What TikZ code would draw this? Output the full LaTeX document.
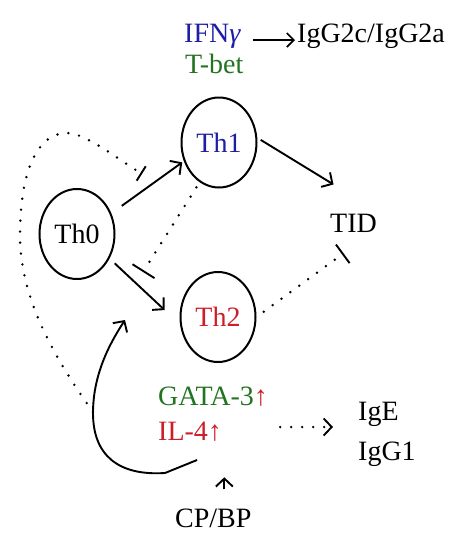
\documentclass[tikz,border=0pt]{standalone}
\usepackage{fontspec}
\setmainfont{Liberation Serif}
\usetikzlibrary{arrows.meta,shapes.geometric}
\definecolor{tblue}{RGB}{30,30,165}
\definecolor{tgreen}{RGB}{35,115,35}
\definecolor{tred}{RGB}{205,30,40}
\tikzset{
  lbl/.style={font=\fontsize{28}{34}\selectfont, inner sep=0pt, anchor=base west},
  cell/.style={ellipse, draw, line width=2pt, minimum width=75pt, minimum height=90pt,
               inner sep=0pt, font=\fontsize{28}{34}\selectfont},
  arr/.style={line width=1.9pt, -{Straight Barb[length=8pt,width=17pt,line width=1.9pt]}},
  dotline/.style={line width=2.7pt, line cap=round, dash pattern=on 0pt off 11pt},
  inh/.style={-{Bar[width=#1,line width=1.9pt]}},
}
\begin{document}
\begin{tikzpicture}[x=1pt,y=-1pt]
\useasboundingbox (0,0) rectangle (474,555);
% cells
\node[cell] (th0) at (77,234) {Th0};
\node[cell, text=tblue] (th1) at (219,142.5) {Th1};
\node[cell, text=tred] (th2) at (218,317) {Th2};
% labels
\node[lbl, text=tblue] (ifn) at (184,42) {IFN\textit{γ}};
\node[lbl, text=tgreen] (tbet) at (185,73) {T-bet};
\node[lbl] (igg) at (297,42) {IgG2c/IgG2a};
\node[lbl] (tid) at (330,232) {TID};
\node[lbl, text=tgreen] (gata) at (158,405) {GATA-3\textcolor{tred}{↑}};
\node[lbl, text=tred] (il4) at (158,440) {IL-4↑};
\node[lbl] (ige) at (358,420) {IgE};
\node[lbl] (igg1) at (358,460) {IgG1};
\node[lbl] (cpbp) at (175,527) {CP/BP};
% free ends
\coordinate (inh1) at (142,174);
\coordinate (inh2) at (143,272);
\coordinate (loop) at (93,412);
\coordinate (fb) at (125,320);
% solid arrows
\draw[line width=1.9pt, -{Straight Barb[length=7pt,width=14pt,line width=1.7pt]}, shorten <=12pt, shorten >=2pt]
  ([yshift=2pt]ifn.base east) -- ([yshift=2pt]igg.base west);
\draw[arr, shorten <=12.8pt, shorten >=2pt] (th0.31) -- (th1.208);
\draw[arr, shorten <=7pt, shorten >=21pt] (th0.-37) -- (th2.191);
\draw[arr, shorten <=4pt] (th1.7) -- ([xshift=-20pt,yshift=29pt]tid.north);
\draw[arr] ([xshift=11pt,yshift=19pt]cpbp.north) -- ([xshift=11pt,yshift=31pt]cpbp.north);
\draw[arr] ([xshift=7pt,yshift=-20pt]il4.base) -- (165,473)
  .. controls (118,476) and (93,455) .. (93,413)
  .. controls (93,372) and (112,340) .. (fb);
% dotted connectors
\draw[dotline, inh=23pt, shorten <=9pt] (th2.east) -- ([xshift=-10pt,yshift=-21pt]tid.south);
\draw[dotline, inh=26pt, shorten <=6pt] (th1.244) -- (inh2);
\draw[dotline, inh=17pt] (loop) .. controls (45,345) and (20,290) .. (20,235)
  .. controls (20,170) and (38,133) .. (67,133)
  .. controls (85,133) and (115,157) .. (inh1);
\draw[dotline, -{Straight Barb[length=8pt,width=17pt,line width=1.9pt]}]
  ([xshift=12pt,yshift=-22pt]gata.base east) -- ([xshift=-25pt,yshift=-7pt]ige.base west);
\end{tikzpicture}
\end{document}
